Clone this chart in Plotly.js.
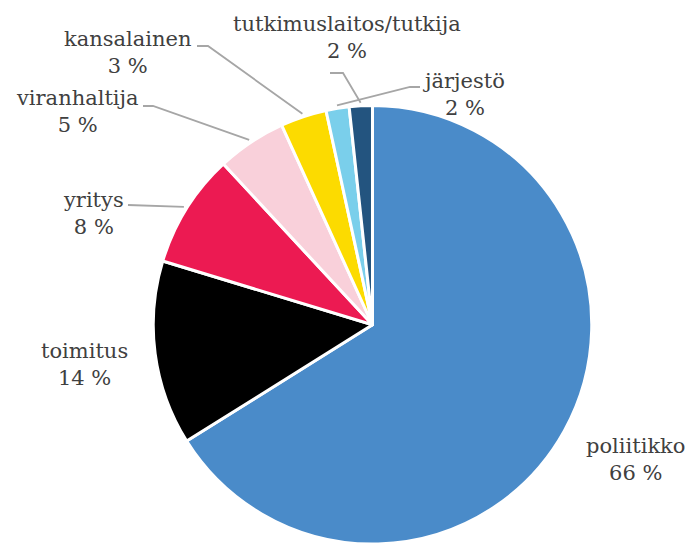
<!DOCTYPE html>
<html><head><meta charset="utf-8">
<script src="https://cdn.plot.ly/plotly-3.0.1.min.js"></script>
<style>html,body{margin:0;padding:0;background:#fff;overflow:hidden}</style>
</head><body><div id="chart" style="width:690px;height:544px"></div>
<script>
const labels = ["poliitikko","toimitus","yritys","viranhaltija","kansalainen","järjestö","tutkimuslaitos/tutkija"];
const values = [66.1,13.6,8.4,5.1,3.4,1.7,1.7];
const colors = ["#4A8BC9","#000000","#EC1A52","#F9D0DA","#FCDB00","#7ACFEB","#23547F"];

// label layout (pixels): centre of each two-line text block
const labelX = [635,84,93,77,128,463,347];
const labelY = [459,364,213,112,53,95,38];
// leader lines: start point near label and optional knee x
const leadStart = [null,null,[128,205],[143,106],[197,46],[420,87],[330,73]];
const leadKnee  = [null,null,null,153,208,410,343];

const W = 690, H = 544;
const cx = 372.5, cy = 325, r = 219.5;
const px = x => x / W;
const py = y => 1 - y / H;

const total = values.reduce((a,b)=>a+b,0);
const annotations = [];
const shapes = [];
let cum = 0;
values.forEach((v,i) => {
  const mid = (cum + v/2) / total * 2 * Math.PI;
  cum += v;
  const pct = Math.round(v / total * 100) + " %";
  annotations.push({
    x: px(labelX[i]), y: py(labelY[i]), xref:'paper', yref:'paper',
    xanchor:'center', yanchor:'middle', showarrow:false, align:'center',
    text: labels[i] + "<br>" + pct,
    font:{family:'"DejaVu Serif", Georgia, serif', size:21, color:'#404040'}
  });
  if (leadStart[i]) {
    const re = r + 3;
    const ex = cx + re * Math.sin(mid), ey = cy - re * Math.cos(mid);
    let d = `M ${px(leadStart[i][0])} ${py(leadStart[i][1])}`;
    if (leadKnee[i] !== null) d += ` L ${px(leadKnee[i])} ${py(leadStart[i][1])}`;
    d += ` L ${px(ex)} ${py(ey)}`;
    shapes.push({type:'path', xref:'paper', yref:'paper', path:d,
      line:{color:'#A6A6A6', width:1.8}});
  }
});

const trace = {
  type:'pie', labels:labels, values:values, sort:false, direction:'clockwise', rotation:0,
  marker:{colors:colors, line:{color:'#FFFFFF', width:3}},
  textinfo:'none', hoverinfo:'none', showlegend:false,
  domain:{x:[(cx-r)/W,(cx+r)/W], y:[Math.max(0,(H-cy-r)/H),(H-cy+r)/H]}
};

Plotly.newPlot('chart',[trace],{
  width:W, height:H, margin:{l:0,r:0,t:0,b:0},
  paper_bgcolor:'#fff', plot_bgcolor:'#fff',
  showlegend:false, annotations:annotations, shapes:shapes
},{staticPlot:true});
</script></body></html>
